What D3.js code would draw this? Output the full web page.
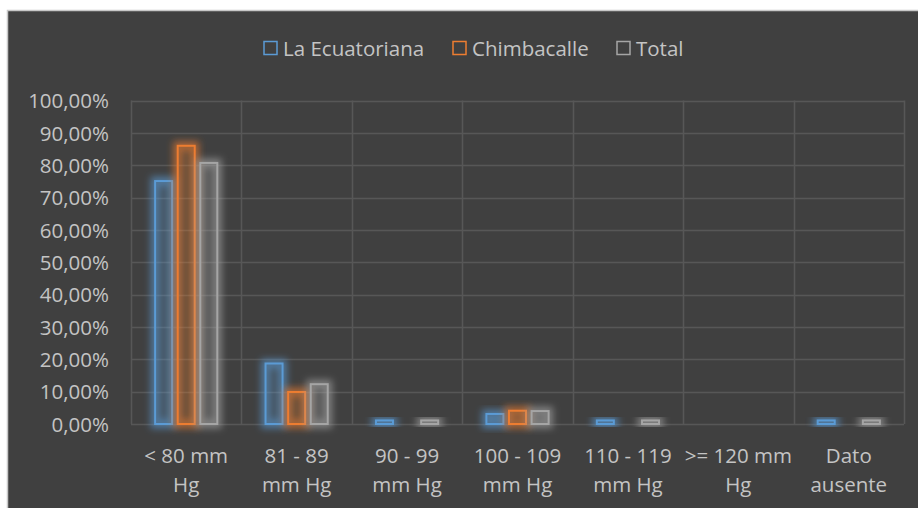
<!DOCTYPE html>
<html>
<head>
<meta charset="utf-8">
<script src="https://cdn.jsdelivr.net/npm/d3@7"></script>
<style>
  html, body { margin: 0; padding: 0; background: #ffffff; }
  svg { display: block; }
  text { font-family: "Open Sans", "Noto Sans", sans-serif; }
</style>
</head>
<body>
<svg id="chart" width="918" height="508"></svg>
<script>
// Presión arterial diastólica por grupo (porcentaje de cada población)
const categories = ["< 80 mm\nHg", "81 - 89\nmm Hg", "90 - 99\nmm Hg", "100 - 109\nmm Hg",
                    "110 - 119\nmm Hg", ">= 120 mm\nHg", "Dato\nausente"];
const seriesNames = ["La Ecuatoriana", "Chimbacalle", "Total"];
const laEcuatoriana = [75.1, 18.7, 1.1, 3.1, 1.1, 0, 1.1];
const chimbacalle   = [86.0, 9.9, 0, 4.1, 0, 0, 0];
const total         = [80.7, 12.3, 1.1, 4.0, 1.1, 0, 1.1];
const yTicks = [0, 10, 20, 30, 40, 50, 60, 70, 80, 90, 100];
const seriesColors = ["#5B9BD5", "#ED7D31", "#A5A5A5"];

const seriesValues = [laEcuatoriana, chimbacalle, total];

const svg = d3.select("#chart");
const W = 918, H = 508;
const FS = 20.5;
const textColor = "#c4c4c4";

// chart background panel
svg.append("rect")
  .attr("x", 7.5).attr("y", 10.5)
  .attr("width", W).attr("height", H)
  .attr("fill", "#404040")
  .attr("stroke", "#c8c8c8").attr("stroke-width", 1.5);

const plot = { left: 131, right: 904, top: 100.5, bottom: 424 };

const x0 = d3.scaleBand()
  .domain(d3.range(categories.length))
  .range([plot.left, plot.right])
  .paddingInner(0).paddingOuter(0);

const groupW = x0.bandwidth() * 0.563;
const x1 = d3.scaleBand()
  .domain(d3.range(seriesNames.length))
  .range([(x0.bandwidth() - groupW) / 2, (x0.bandwidth() + groupW) / 2])
  .paddingInner(0.248).paddingOuter(0);

const y = d3.scaleLinear().domain([0, 100]).range([plot.bottom, plot.top]);

const locale = d3.formatLocale({ decimal: ",", thousands: ".", grouping: [3], currency: ["", "€"] });
const pct = locale.format(".2%");

// glow filter
const defs = svg.append("defs");
const f = defs.append("filter").attr("id", "glow")
  .attr("x", "-80%").attr("y", "-80%").attr("width", "260%").attr("height", "260%");
f.append("feGaussianBlur").attr("stdDeviation", 3.5);

// horizontal gridlines
const grid = svg.append("g");
grid.selectAll("line.h").data(yTicks).join("line")
  .attr("x1", plot.left).attr("x2", plot.right)
  .attr("y1", d => Math.round(y(d)) + 0.5).attr("y2", d => Math.round(y(d)) + 0.5)
  .attr("stroke", "#575757").attr("stroke-width", 1.5);

// vertical gridlines at category boundaries
const bounds = d3.range(categories.length + 1).map(i => i < categories.length ? x0(i) : plot.right);
grid.selectAll("line.v").data(bounds).join("line")
  .attr("x1", d => Math.round(d) + 0.5).attr("x2", d => Math.round(d) + 0.5)
  .attr("y1", plot.top).attr("y2", plot.bottom)
  .attr("stroke", "#575757").attr("stroke-width", 1.5);

// y axis labels
const yAxis = d3.axisLeft(y).tickValues(yTicks).tickSize(0).tickPadding(0)
  .tickFormat(d => pct(d / 100));
const gy = svg.append("g").attr("transform", `translate(109,0)`).call(yAxis);
gy.select(".domain").remove();
gy.selectAll("text").attr("fill", textColor).attr("font-size", FS)
  .attr("font-family", "'Open Sans', sans-serif").attr("dy", "0.35em");

// x axis labels (two lines each)
const xl = svg.append("g");
categories.forEach((c, i) => {
  const t = xl.append("text")
    .attr("text-anchor", "middle")
    .attr("fill", textColor).attr("font-size", FS);
  c.split("\n").forEach((line, k) => {
    t.append("tspan").attr("x", x0(i) + x0.bandwidth() / 2)
      .attr("y", 463 + k * 29).text(line);
  });
});

// bars
const bars = svg.append("g");
seriesValues.forEach((vals, s) => {
  const g = bars.append("g");
  const data = vals.map((v, i) => ({ v, i })).filter(d => d.v > 0);
  // soft glow behind each bar
  g.selectAll("rect.glow").data(data).join("rect")
    .attr("x", d => x0(d.i) + x1(s))
    .attr("y", d => y(d.v))
    .attr("width", x1.bandwidth())
    .attr("height", d => y(0) - y(d.v))
    .attr("fill", seriesColors[s]).attr("fill-opacity", 0.18)
    .attr("stroke", seriesColors[s]).attr("stroke-width", 9).attr("stroke-opacity", 0.6)
    .attr("filter", "url(#glow)");
  // crisp outline
  g.selectAll("rect.bar").data(data).join("rect")
    .attr("x", d => x0(d.i) + x1(s))
    .attr("y", d => y(d.v))
    .attr("width", x1.bandwidth())
    .attr("height", d => y(0) - y(d.v))
    .attr("fill", "none")
    .attr("stroke", seriesColors[s]).attr("stroke-width", 2);
});

// legend
const legendItems = [
  { name: seriesNames[0], x: 264 },
  { name: seriesNames[1], x: 453 },
  { name: seriesNames[2], x: 617 }
];
const lg = svg.append("g");
legendItems.forEach((it, i) => {
  lg.append("rect").attr("x", it.x).attr("y", 41.5).attr("width", 13).attr("height", 13)
    .attr("fill", "none").attr("stroke", seriesColors[i]).attr("stroke-width", 1.5);
  lg.append("text").attr("x", it.x + 19).attr("y", 56)
    .attr("fill", textColor).attr("font-size", FS).text(it.name);
});
</script>
</body>
</html>
